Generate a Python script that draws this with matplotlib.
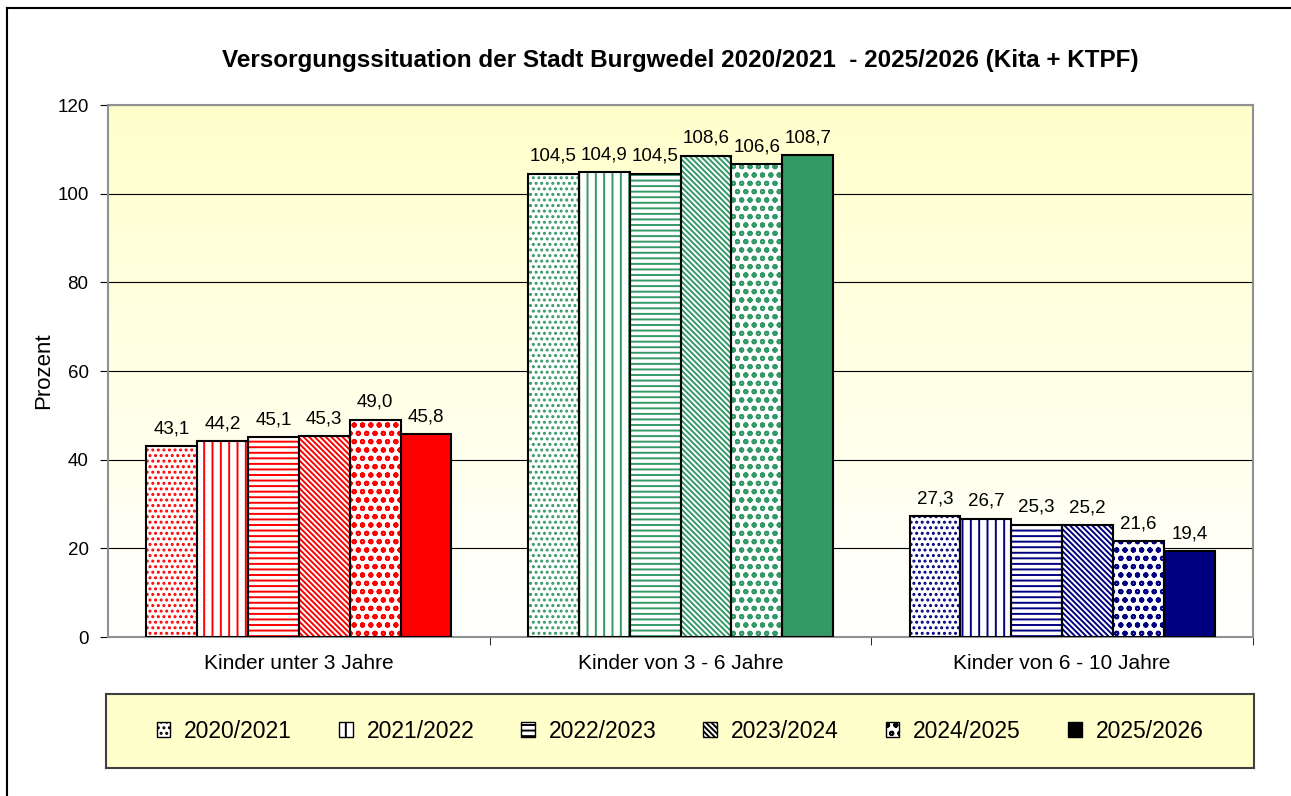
import numpy as np
import matplotlib.pyplot as plt
from matplotlib.patches import Patch
from matplotlib.colors import LinearSegmentedColormap
from matplotlib.lines import Line2D

plt.rcParams['font.family'] = ['Liberation Sans', 'DejaVu Sans']
plt.rcParams['hatch.linewidth'] = 1.4

# data
categories = ['Kinder unter 3 Jahre', 'Kinder von 3 - 6 Jahre', 'Kinder von 6 - 10 Jahre']
years = ['2020/2021', '2021/2022', '2022/2023', '2023/2024', '2024/2025', '2025/2026']
values = {
    '2020/2021': [43.1, 104.5, 27.3],
    '2021/2022': [44.2, 104.9, 26.7],
    '2022/2023': [45.1, 104.5, 25.3],
    '2023/2024': [45.3, 108.6, 25.2],
    '2024/2025': [49.0, 106.6, 21.6],
    '2025/2026': [45.8, 108.7, 19.4],
}
group_colors = ['#ff0000', '#339966', '#000080']
hatches = ['...', '||', '---', '\\\\\\\\\\\\', 'oo', None]

fig = plt.figure(figsize=(12.91, 7.96), dpi=100)
ax = fig.add_axes([108 / 1291, 1 - 637 / 796, 1145 / 1291, 532 / 796])

# background gradient: yellow at top, near white at bottom
grad = LinearSegmentedColormap.from_list('bg', ['#ffffff', '#ffffcc'])
ax.imshow(np.linspace(0, 1, 256).reshape(-1, 1), cmap=grad, aspect='auto',
          extent=(0, 1, 0, 1), transform=ax.transAxes, origin='lower', zorder=0)

x = np.arange(len(categories))
width = 0.8 / len(years)
for i, yr in enumerate(years):
    pos = x - 0.4 + width * (i + 0.5)
    vals = values[yr]
    for j in range(len(categories)):
        c = group_colors[j]
        if hatches[i] is None:
            ax.bar(pos[j], vals[j], width, color=c, edgecolor='black', linewidth=1.5, zorder=3)
        else:
            ax.bar(pos[j], vals[j], width, color='white', edgecolor=c, hatch=hatches[i],
                   linewidth=0, zorder=3)
            ax.bar(pos[j], vals[j], width, fill=False, edgecolor='black', linewidth=1.5, zorder=4)
        ax.text(pos[j], vals[j] + 2, f'{vals[j]:.1f}'.replace('.', ','),
                ha='center', va='bottom', fontsize=13.5)

ax.set_xlim(-0.5, 2.5)
ax.set_ylim(0, 120)
ax.set_yticks(range(0, 121, 20))
ax.set_xticks(x)
ax.set_xticklabels(categories, fontsize=15)
ax.set_xticks([0.5, 1.5, 2.5], minor=True)
ax.tick_params(axis='x', which='major', length=0, pad=12)
ax.tick_params(axis='x', which='minor', length=6, direction='out', color='black')
ax.tick_params(axis='y', labelsize=13.5, length=6, direction='out', pad=8)
ax.grid(axis='y', color='black', linewidth=0.8, zorder=1)
for s in ax.spines.values():
    s.set_color('#909090')
    s.set_linewidth(1.5)
ax.set_ylabel('Prozent', fontsize=16, labelpad=2)

fig.text(680 / 1291, 1 - 60 / 796,
         'Versorgungssituation der Stadt Burgwedel 2020/2021  - 2025/2026 (Kita + KTPF)',
         ha='center', va='center', fontsize=17.5, fontweight='bold')

handles = []
for i, yr in enumerate(years):
    if hatches[i] is None:
        handles.append(Patch(facecolor='black', edgecolor='black', label=yr))
    else:
        handles.append(Patch(facecolor='white', edgecolor='black', hatch=hatches[i], label=yr))
legbox = fig.add_axes([106 / 1291, 1 - 768 / 796, 1148 / 1291, 74 / 796])
legbox.set_facecolor('#ffffcc')
legbox.set_xticks([])
legbox.set_yticks([])
for s in legbox.spines.values():
    s.set_color('#404040')
    s.set_linewidth(1.5)
leg = legbox.legend(handles=handles, loc='center', ncol=6,
                    fontsize=16.5, frameon=False, handlelength=0.6,
                    handleheight=0.6, handletextpad=0.6, columnspacing=2.05)

# outer frame: left and top only
fig.add_artist(Line2D([7 / 1291, 7 / 1291], [0, 1 - 8 / 796], transform=fig.transFigure,
                      color='black', linewidth=1.5))
fig.add_artist(Line2D([7 / 1291, 1], [1 - 8 / 796, 1 - 8 / 796], transform=fig.transFigure,
                      color='black', linewidth=1.5))

fig.savefig('out.png', dpi=100)
